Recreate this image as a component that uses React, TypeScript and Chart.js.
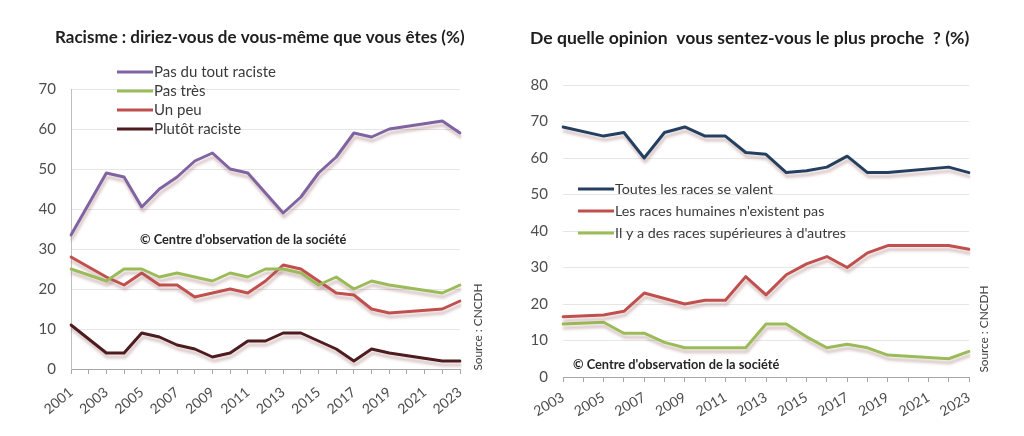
import React, { useEffect, useRef } from 'react';
import { Chart, registerables } from 'chart.js';

Chart.register(...registerables);

// ---------- Data: left chart ----------
const leftYears = ['2001','2002','2003','2004','2005','2006','2007','2008','2009','2010','2011','2012','2013','2014','2015','2016','2017','2018','2019','2020','2021','2022','2023'];
const pasDuToutRaciste = [33.5, null, 49, 48, 40.5, 45, 48, 52, 54, 50, 49, 44, 39, 43, 49, 53, 59, 58, 60, null, null, 62, 59];
const pasTres = [25, null, 22, 25, 25, 23, 24, 23, 22, 24, 23, 25, 25, 24, 21, 23, 20, 22, 21, null, null, 19, 21];
const unPeu = [28, null, 23, 21, 24, 21, 21, 18, 19, 20, 19, 22, 26, 25, 22, 19, 18.5, 15, 14, null, null, 15, 17];
const plutotRaciste = [11, null, 4, 4, 9, 8, 6, 5, 3, 4, 7, 7, 9, 9, 7, 5, 2, 5, 4, null, null, 2, 2];
const leftLabels = ['Pas du tout raciste', 'Pas très', 'Un peu', 'Plutôt raciste'];
const leftTicks = [0, 10, 20, 30, 40, 50, 60, 70];

// ---------- Data: right chart ----------
const rightYears = ['2003','2004','2005','2006','2007','2008','2009','2010','2011','2012','2013','2014','2015','2016','2017','2018','2019','2020','2021','2022','2023'];
const toutesSeValent = [68.5, null, 66, 67, 60, 67, 68.5, 66, 66, 61.5, 61, 56, 56.5, 57.5, 60.5, 56, 56, null, null, 57.5, 56];
const nExistentPas = [16.5, null, 17, 18, 23, 21.5, 20, 21, 21, 27.5, 22.5, 28, 31, 33, 30, 34, 36, null, null, 36, 35];
const racesSuperieures = [14.5, null, 15, 12, 12, 9.5, 8, 8, 8, 8, 14.5, 14.5, 11, 8, 9, 8, 6, null, null, 5, 7];
const rightLabels = ['Toutes les races se valent', "Les races humaines n'existent pas", "Il y a des races supérieures à d'autres"];
const rightTicks = [0, 10, 20, 30, 40, 50, 60, 70, 80];

const leftTitle = 'Racisme : diriez-vous de vous-même que vous êtes (%)';
const rightTitle = 'De quelle opinion  vous sentez-vous le plus proche  ? (%)';
const watermark = "© Centre d'observation de la société";
const sourceText = 'Source : CNCDH';

const FONT = "Lato, 'Open Sans', sans-serif";

type Decor = {
  title: string; titleX: number; titleY: number; titleSize: number;
  legendX: number; legendY: number; legendGap: number; legendSize: number;
  wmX: number; wmY: number;
  srcX: number; srcY: number;
};

function decorPlugin(d: Decor) {
  return {
    id: 'decor',
    beforeDatasetsDraw(chart: any) {
      const ctx = chart.ctx;
      ctx.save();
      ctx.shadowColor = 'rgba(150,95,95,0.38)';
      ctx.shadowOffsetX = 1;
      ctx.shadowOffsetY = 4;
      ctx.shadowBlur = 3;
    },
    afterDatasetsDraw(chart: any) {
      chart.ctx.restore();
    },
    afterDraw(chart: any) {
      const ctx = chart.ctx;
      ctx.save();
      ctx.textBaseline = 'middle';
      ctx.textAlign = 'left';
      ctx.fillStyle = '#1e1e1e';
      ctx.font = `bold ${d.titleSize}px ${FONT}`;
      ctx.fillText(d.title, d.titleX, d.titleY);

      chart.data.datasets.forEach((ds: any, i: number) => {
        const y = d.legendY + i * d.legendGap;
        ctx.strokeStyle = ds.borderColor;
        ctx.lineWidth = 3;
        ctx.beginPath();
        ctx.moveTo(d.legendX, y);
        ctx.lineTo(d.legendX + 36, y);
        ctx.stroke();
        ctx.fillStyle = '#3a3a3a';
        ctx.font = `${d.legendSize}px ${FONT}`;
        ctx.fillText(ds.label, d.legendX + 37, y);
      });

      ctx.fillStyle = '#262626';
      ctx.font = `bold 12.8px ${FONT}`;
      ctx.fillText(watermark, d.wmX, d.wmY);

      ctx.translate(d.srcX, d.srcY);
      ctx.rotate(-Math.PI / 2);
      ctx.textAlign = 'center';
      ctx.fillStyle = '#404040';
      ctx.font = `11.8px ${FONT}`;
      ctx.fillText(sourceText, 0, 0);
      ctx.restore();
    },
  };
}

function makeConfig(opts: {
  labels: string[]; series: (number | null)[][]; names: string[]; colors: string[];
  ticks: number[]; yWidth: number; xHeight: number; padTop: number; padRight: number;
  rotation: number; tickPad: number; yBorder: boolean; decor: Decor;
}) {
  const max = opts.ticks[opts.ticks.length - 1];
  return {
    type: 'line' as const,
    data: {
      labels: opts.labels,
      datasets: opts.series.map((s, i) => ({
        label: opts.names[i],
        data: s,
        borderColor: opts.colors[i],
        backgroundColor: opts.colors[i],
        borderWidth: 3,
        pointRadius: 0,
        tension: 0,
        spanGaps: true,
        borderJoinStyle: 'round' as const,
        borderCapStyle: 'round' as const,
      })),
    },
    options: {
      animation: false as const,
      responsive: false,
      events: [],
      layout: { padding: { top: opts.padTop, right: opts.padRight, bottom: 0, left: 0 } },
      plugins: { legend: { display: false }, title: { display: false }, tooltip: { enabled: false } },
      scales: {
        x: {
          type: 'category' as const,
          offset: false,
          afterFit: (s: any) => { s.height = opts.xHeight; },
          border: { display: true, color: '#a6a6a6', width: 1 },
          grid: { display: true, drawOnChartArea: false, drawTicks: true, tickLength: 5, color: '#a6a6a6' },
          ticks: {
            autoSkip: false,
            minRotation: opts.rotation,
            maxRotation: opts.rotation,
            color: '#4d4d4d',
            font: { family: FONT, size: 14 },
            padding: opts.tickPad,
            callback: function (this: any, val: any, index: number) {
              return index % 2 === 0 ? this.getLabelForValue(val) : '';
            },
          },
        },
        y: {
          min: 0,
          max,
          afterFit: (s: any) => { s.width = opts.yWidth; },
          afterBuildTicks: (s: any) => { s.ticks = opts.ticks.map((v) => ({ value: v })); },
          border: { display: opts.yBorder, color: '#bfbfbf', width: 1 },
          grid: { color: '#e6e6e6', drawTicks: false, lineWidth: 1 },
          ticks: { color: '#4d4d4d', font: { family: FONT, size: 15 }, padding: 15 },
        },
      },
    },
    plugins: [decorPlugin(opts.decor)],
  };
}

function Panel({ left, width, config }: { left: number; width: number; config: any }) {
  const ref = useRef<HTMLCanvasElement>(null);
  useEffect(() => {
    if (!ref.current) return;
    const chart = new Chart(ref.current, config);
    return () => chart.destroy();
  }, []);
  return (
    <div style={{ position: 'absolute', left, top: 0, width, height: 436 }}>
      <canvas ref={ref} width={width} height={436} style={{ display: 'block', width, height: 436 }} />
    </div>
  );
}

export default function App() {
  const leftConfig = makeConfig({
    labels: leftYears,
    series: [pasDuToutRaciste, pasTres, unPeu, plutotRaciste],
    names: leftLabels,
    colors: ['#8064A2', '#9BBB59', '#C0504D', '#4E1B1F'],
    ticks: leftTicks,
    yWidth: 71,
    xHeight: 67,
    padTop: 89,
    padRight: 45,
    rotation: 40,
    tickPad: 10,
    yBorder: true,
    decor: {
      title: leftTitle, titleX: 55, titleY: 38, titleSize: 17,
      legendX: 117, legendY: 72, legendGap: 19, legendSize: 15,
      wmX: 140, wmY: 240,
      srcX: 478, srcY: 327,
    },
  });
  const rightConfig = makeConfig({
    labels: rightYears,
    series: [toutesSeValent, nExistentPas, racesSuperieures],
    names: rightLabels,
    colors: ['#243F60', '#C0504D', '#9BBB59'],
    ticks: rightTicks,
    yWidth: 58,
    xHeight: 59,
    padTop: 85,
    padRight: 55,
    rotation: 30,
    tickPad: 7,
    yBorder: false,
    decor: {
      title: rightTitle, titleX: 25, titleY: 38, titleSize: 17.6,
      legendX: 73, legendY: 189, legendGap: 22, legendSize: 14.3,
      wmX: 68, wmY: 365,
      srcX: 479, srcY: 329,
    },
  });
  return (
    <div style={{ position: 'absolute', left: 0, top: 0, width: 1024, height: 436, background: '#fff', overflow: 'hidden' }}>
      <Panel left={0} width={505} config={leftConfig} />
      <Panel left={505} width={519} config={rightConfig} />
    </div>
  );
}
